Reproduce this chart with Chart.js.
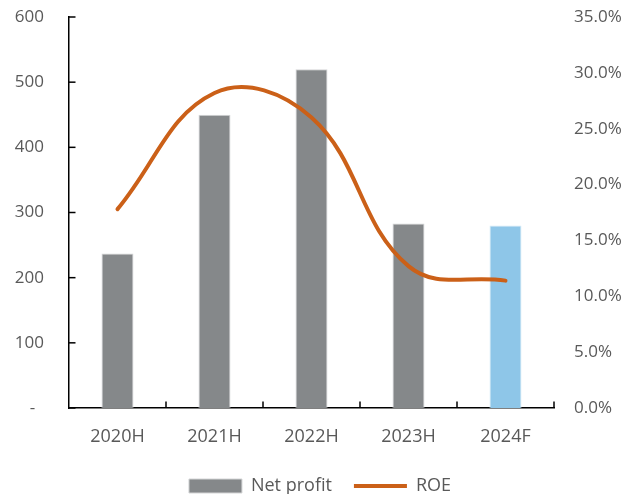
<!DOCTYPE html>
<html>
<head>
<meta charset="utf-8">
<script src="https://cdn.jsdelivr.net/npm/chart.js@4.4.1/dist/chart.umd.min.js"></script>
<style>
  html, body { margin: 0; padding: 0; background: #ffffff; }
  #wrap { width: 640px; height: 494px; position: relative; }
</style>
</head>
<body>
<div id="wrap"><canvas id="c"></canvas></div>
<script>
// ---- data ----
const categories = ['2020H', '2021H', '2022H', '2023H', '2024F'];
const netProfit = [237, 450, 520, 283, 280];
const roe = [17.8, 28.2, 26.0, 12.7, 11.4];
const seriesNames = ['Net profit', 'ROE'];
const leftTickMax = 600;
const leftTickStep = 100;
const rightTickMax = 35;
const rightTickStep = 5;
const zeroLabel = '-';

// ---- style ----
const barColors = ['#85888a', '#85888a', '#85888a', '#85888a', '#8ec6e8'];
const barBorders = ['#d4d5d6', '#d4d5d6', '#d4d5d6', '#d4d5d6', '#d3eaf7'];
const lineColor = '#cb6018';
const textColor = '#595959';
const fontFamily = "'Open Sans', 'Noto Sans', sans-serif";

const inwardTicks = {
  id: 'inwardTicks',
  afterDraw(chart) {
    const { ctx, chartArea, scales } = chart;
    const x = scales.x, y = scales.y;
    ctx.save();
    ctx.strokeStyle = '#000000';
    ctx.lineWidth = 1.5;
    y.ticks.forEach((t, i) => {
      const py = y.getPixelForTick(i);
      ctx.beginPath();
      ctx.moveTo(chartArea.left, py);
      ctx.lineTo(chartArea.left + 6.5, py);
      ctx.stroke();
    });
    for (let i = 1; i <= categories.length; i++) {
      const px = x.getPixelForValue(i - 0.5);
      ctx.beginPath();
      ctx.moveTo(px, chartArea.bottom);
      ctx.lineTo(px, chartArea.bottom - 6.5);
      ctx.stroke();
    }
    ctx.restore();
  }
};

new Chart(document.getElementById('c'), {
  type: 'bar',
  data: {
    labels: categories,
    datasets: [
      {
        type: 'bar',
        label: seriesNames[0],
        data: netProfit,
        yAxisID: 'y',
        backgroundColor: barColors,
        borderColor: barBorders,
        borderWidth: 1,
        barPercentage: 0.33,
        categoryPercentage: 1.0,
        pointStyle: 'rect',
        order: 2
      },
      {
        type: 'line',
        label: seriesNames[1],
        data: roe,
        yAxisID: 'y1',
        borderColor: lineColor,
        backgroundColor: lineColor,
        borderWidth: 4,
        borderCapStyle: 'round',
        tension: 0.4,
        pointRadius: 0,
        pointStyle: 'line',
        fill: false,
        order: 1
      }
    ]
  },
  options: {
    responsive: true,
    maintainAspectRatio: false,
    animation: false,
    layout: { padding: { top: 17, bottom: -11, left: 0, right: 0 } },
    plugins: {
      tooltip: { enabled: false },
      legend: {
        position: 'bottom',
        align: 'center',
        labels: {
          usePointStyle: true,
          pointStyleWidth: 53,
          boxHeight: 14,
          padding: 22,
          color: textColor,
          font: { family: fontFamily, size: 18 },
          sort: (a, b) => a.datasetIndex - b.datasetIndex
        }
      }
    },
    scales: {
      x: {
        grid: { display: false, drawTicks: false },
        border: { display: true, color: '#000000', width: 1.5 },
        ticks: { color: textColor, font: { family: fontFamily, size: 18 }, padding: 18, maxRotation: 0 },
        afterFit: (s) => { s.height = 47; }
      },
      y: {
        position: 'left',
        min: 0,
        max: leftTickMax,
        grid: { display: false, drawTicks: true, tickLength: 25 },
        border: { display: true, color: '#000000', width: 1.5 },
        ticks: {
          stepSize: leftTickStep,
          color: textColor,
          font: { family: fontFamily, size: 17 },
          padding: 0,
          callback: (v) => (v === 0 ? zeroLabel + '  ' : String(v))
        },
        afterFit: (s) => { s.width = 69; }
      },
      y1: {
        position: 'right',
        min: 0,
        max: rightTickMax,
        grid: { display: false, drawTicks: true, tickLength: 20 },
        border: { display: false },
        ticks: {
          stepSize: rightTickStep,
          color: textColor,
          font: { family: fontFamily, size: 17 },
          padding: 0,
          callback: (v) => v.toFixed(1) + '%'
        },
        afterFit: (s) => { s.width = 86; }
      }
    }
  },
  plugins: [inwardTicks]
});
</script>
</body>
</html>
